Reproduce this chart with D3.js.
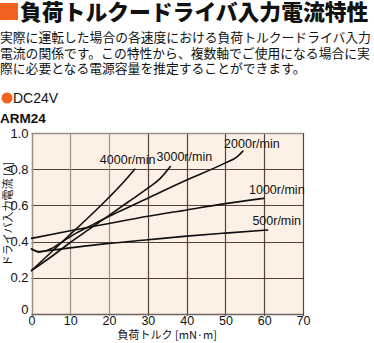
<!DOCTYPE html>
<html>
<head>
<meta charset="utf-8">
<script src="https://cdn.jsdelivr.net/npm/d3@7/dist/d3.min.js"></script>
<style>
  html, body { margin: 0; padding: 0; background: #ffffff; }
  svg { display: block; }
</style>
</head>
<body>
<svg id="chart" width="374" height="343"></svg>
<script>
// Load torque [mN·m] vs. driver input current [A], ARM24 at DC24V
const xTicks = [0, 10, 20, 30, 40, 50, 60, 70];
const yTicks = [0, 0.2, 0.4, 0.6, 0.8, 1.0];
const yTickLabels = ["0", "0.2", "0.4", "0.6", "0.8", "1.0"];

const speedLabels = ["4000r/min", "3000r/min", "2000r/min", "1000r/min", "500r/min"];

const torque4000  = [0, 5, 10, 15, 20, 24, 26.6];
const current4000 = [0.24, 0.34, 0.44, 0.54, 0.645, 0.735, 0.80];

const torque3000  = [0, 5, 10, 15, 20, 25, 30, 33, 35.8];
const current3000 = [0.24, 0.315, 0.395, 0.47, 0.545, 0.62, 0.695, 0.745, 0.815];

const torque2000  = [0, 2, 5, 8, 11, 15, 20, 25, 30, 40, 50, 53, 54.5];
const current2000 = [0.36, 0.342, 0.36, 0.40, 0.44, 0.485, 0.54, 0.59, 0.64, 0.74, 0.835, 0.868, 0.90];

const torque1000  = [0, 10, 20, 30, 40, 50, 59.9];
const current1000 = [0.418, 0.46, 0.50, 0.54, 0.575, 0.61, 0.639];

const torque500   = [0, 2, 5, 11, 20, 30, 40, 50, 60.9];
const current500  = [0.36, 0.345, 0.352, 0.368, 0.39, 0.41, 0.43, 0.447, 0.464];

const seriesTorque  = [torque4000, torque3000, torque2000, torque1000, torque500];
const seriesCurrent = [current4000, current3000, current2000, current1000, current500];

// label offsets from each curve's end point (px)
const labelOffsets = [[-7, -5], [14, -5], [9, -3], [13, -4], [9, -5]];

const orange = "#f0621e";
const narrow = "'Liberation Sans Narrow', 'Arial Narrow', 'Liberation Sans', sans-serif";
const jp = "'Noto Sans CJK JP', sans-serif";

const svg = d3.select("#chart");

// ---- heading ----
svg.append("rect").attr("x", 0).attr("y", 3).attr("width", 18).attr("height", 17).attr("fill", orange);
svg.append("text")
  .attr("x", 20).attr("y", 20)
  .attr("font-family", jp).attr("font-weight", 900).attr("font-size", 21.8)
  .attr("fill", "#111")
  .text("負荷トルクードライバ入力電流特性");

const para = [
  "実際に運転した場合の各速度における負荷トルクードライバ入力",
  "電流の関係です。この特性から、複数軸でご使用になる場合に実",
  "際に必要となる電源容量を推定することができます。"
];
svg.append("g").selectAll("text").data(para).join("text")
  .attr("x", 0).attr("y", (d, i) => 42 + i * 15.5)
  .attr("font-family", jp).attr("font-size", 12.8).attr("fill", "#111")
  .text(d => d);

svg.append("circle").attr("cx", 7).attr("cy", 98).attr("r", 5.5).attr("fill", orange);
svg.append("text").attr("x", 13).attr("y", 103)
  .attr("font-family", "'Liberation Sans', Arial, sans-serif").attr("font-size", 14).attr("fill", "#111")
  .text("DC24V");
svg.append("text").attr("x", 0).attr("y", 123)
  .attr("font-family", "'Liberation Sans', Arial, sans-serif").attr("font-weight", "bold").attr("font-size", 13.5).attr("fill", "#111")
  .text("ARM24");

// ---- plot ----
const x = d3.scaleLinear().domain([0, 70]).range([31.5, 303]);
const y = d3.scaleLinear().domain([0, 1]).range([314, 133]);

svg.append("rect")
  .attr("x", x(0)).attr("y", y(1))
  .attr("width", x(70) - x(0)).attr("height", y(0) - y(1))
  .attr("fill", "#fdf0e4");

const dark = "#55423a";
const light = "#9d908a";

// horizontal grid
svg.append("g").selectAll("line").data(yTicks.filter(v => v > 0 && v < 1)).join("line")
  .attr("x1", x(0)).attr("x2", x(70))
  .attr("y1", d => Math.round(y(d)) + 0.5).attr("y2", d => Math.round(y(d)) + 0.5)
  .attr("stroke", dark).attr("stroke-width", 1);
// vertical grid
svg.append("g").selectAll("line").data(xTicks.filter(v => v > 0)).join("line")
  .attr("x1", d => Math.round(x(d)) + 0.5).attr("x2", d => Math.round(x(d)) + 0.5)
  .attr("y1", y(1)).attr("y2", y(0) + 2)
  .attr("stroke", d => d <= 20 ? light : dark).attr("stroke-width", 1.2);
// frame
svg.append("line").attr("x1", x(0)).attr("x2", x(70)).attr("y1", Math.round(y(1)) + 0.5).attr("y2", Math.round(y(1)) + 0.5)
  .attr("stroke", light).attr("stroke-width", 1.5);
svg.append("line").attr("x1", Math.round(x(0)) + 0.5).attr("x2", Math.round(x(0)) + 0.5).attr("y1", y(1)).attr("y2", y(0) + 2)
  .attr("stroke", light).attr("stroke-width", 1.5);
svg.append("line").attr("x1", x(0)).attr("x2", x(70)).attr("y1", Math.round(y(0)) + 0.5).attr("y2", Math.round(y(0)) + 0.5)
  .attr("stroke", "#6c6460").attr("stroke-width", 1.5);

// axes labels
const xAxis = d3.axisBottom(x).tickValues(xTicks).tickSize(0).tickPadding(2).tickFormat(d3.format("d"));
const gx = svg.append("g").attr("transform", `translate(0,${y(0)})`).call(xAxis);
gx.select(".domain").remove();
gx.selectAll("text").attr("font-family", narrow).attr("font-size", 12.5).attr("fill", "#111");

const yAxis = d3.axisLeft(y).tickValues(yTicks).tickSize(0).tickPadding(3)
  .tickFormat((d, i) => yTickLabels[i]);
const gy = svg.append("g").attr("transform", `translate(${x(0)},0)`).call(yAxis);
gy.select(".domain").remove();
gy.selectAll("text").attr("font-family", narrow).attr("font-size", 13).attr("fill", "#111")
  .attr("dy", d => d === 0 ? "-0.05em" : "0.32em");

svg.append("text")
  .attr("x", (x(0) + x(70)) / 2).attr("y", 339)
  .attr("text-anchor", "middle")
  .attr("font-family", jp).attr("font-size", 11).attr("fill", "#111")
  .text("負荷トルク [mN·m]");
svg.append("text")
  .attr("transform", `translate(11.5,214) rotate(-90)`)
  .attr("text-anchor", "middle")
  .attr("font-family", jp).attr("font-size", 11).attr("fill", "#111")
  .text("ドライバ入力電流 [A]");

// curves
const line = d3.line().x(d => x(d[0])).y(d => y(d[1])).curve(d3.curveMonotoneX);
const curves = seriesTorque.map((t, i) => t.map((v, j) => [v, seriesCurrent[i][j]]));

svg.append("g").selectAll("path").data(curves).join("path")
  .attr("d", line)
  .attr("fill", "none").attr("stroke", "#111").attr("stroke-width", 1.6)
  .attr("stroke-linecap", "round");

svg.append("g").selectAll("text").data(curves).join("text")
  .attr("x", (d, i) => x(d[d.length - 1][0]) + labelOffsets[i][0])
  .attr("y", (d, i) => y(d[d.length - 1][1]) + labelOffsets[i][1])
  .attr("text-anchor", "middle")
  .attr("font-family", narrow).attr("font-size", 12.5).attr("fill", "#111")
  .text((d, i) => speedLabels[i]);
</script>
</body>
</html>
